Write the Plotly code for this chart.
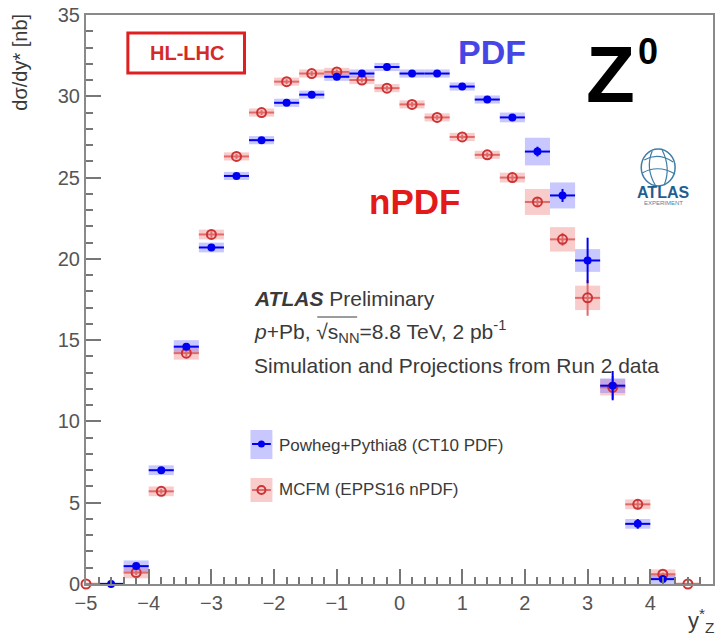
import plotly.graph_objects as go

# ---- Powheg+Pythia8 (CT10 PDF) ----
pdf_y = [-4.6, -4.2, -3.8, -3.4, -3.0, -2.6, -2.2, -1.8, -1.4, -1.0, -0.6, -0.2,
         0.2, 0.6, 1.0, 1.4, 1.8, 2.2, 2.6, 3.0, 3.4, 3.8, 4.2]
pdf_xs = [0.0, 1.1, 7.0, 14.6, 20.7, 25.1, 27.3, 29.6, 30.1, 31.2, 31.4, 31.8,
          31.4, 31.4, 30.6, 29.8, 28.7, 26.6, 23.9, 19.9, 12.2, 3.7, 0.3]
pdf_stat = [0.05, 0.15, 0.15, 0.2, 0.2, 0.15, 0.15, 0.15, 0.15, 0.15, 0.15, 0.15,
            0.15, 0.15, 0.15, 0.15, 0.2, 0.3, 0.4, 1.4, 0.9, 0.3, 0.1]
pdf_sys = [0.1, 0.35, 0.3, 0.4, 0.3, 0.25, 0.25, 0.25, 0.25, 0.25, 0.25, 0.25,
           0.25, 0.25, 0.25, 0.25, 0.3, 0.85, 0.8, 0.7, 0.45, 0.3, 0.3]

# ---- MCFM (EPPS16 nPDF) ----
npdf_y = [-5.0, -4.2, -3.8, -3.4, -3.0, -2.6, -2.2, -1.8, -1.4, -1.0, -0.6, -0.2,
          0.2, 0.6, 1.0, 1.4, 1.8, 2.2, 2.6, 3.0, 3.4, 3.8, 4.2, 4.6]
npdf_xs = [0.0, 0.7, 5.7, 14.2, 21.5, 26.3, 29.0, 30.9, 31.4, 31.5, 31.0, 30.5,
           29.5, 28.7, 27.5, 26.4, 25.0, 23.5, 21.2, 17.6, 12.1, 4.9, 0.6, 0.0]
npdf_stat = [0.05, 0.15, 0.15, 0.2, 0.2, 0.15, 0.15, 0.15, 0.15, 0.15, 0.15, 0.15,
             0.15, 0.15, 0.15, 0.15, 0.2, 0.3, 0.4, 1.1, 0.7, 0.3, 0.1, 0.05]
npdf_sys = [0.1, 0.35, 0.3, 0.4, 0.3, 0.25, 0.25, 0.25, 0.25, 0.25, 0.25, 0.25,
            0.25, 0.25, 0.25, 0.25, 0.3, 0.8, 0.75, 0.75, 0.5, 0.3, 0.3, 0.1]

half_bin = 0.2
x_ticks = [-5, -4, -3, -2, -1, 0, 1, 2, 3, 4, 5]
y_ticks = [0, 5, 10, 15, 20, 25, 30, 35]

BLUE = "#0000f0"
BLUE_BOX = "rgba(110,110,255,0.38)"
RED = "#cc3333"
RED_BAR = "#e06a6a"
RED_BOX = "rgba(240,120,120,0.38)"
GREY_TXT = "#3a3a3a"
FONT = "Liberation Sans, Arial, sans-serif"

# plot-area geometry (pixels) used to place free text in paper units
W, H = 718, 642
L, R, T, B = 86, 3, 15, 58
PW, PH = W - L - R, H - T - B


def px(x):
    return (x - L) / PW


def py(y):
    return (H - B - y) / PH


fig = go.Figure()


def add_series(xc, val, stat, sys, box_col, bar_col, marker):
    fig.add_trace(go.Bar(
        x=xc, y=[2 * s for s in sys], base=[v - s for v, s in zip(val, sys)],
        width=2 * half_bin, marker=dict(color=box_col, line=dict(width=0)),
        showlegend=False, hoverinfo="skip"))
    fig.add_trace(go.Scatter(
        x=xc, y=val, mode="markers", cliponaxis=False, showlegend=False,
        marker=marker,
        error_x=dict(type="data", array=[half_bin] * len(xc), width=0,
                     thickness=2, color=bar_col),
        error_y=dict(type="data", array=stat, width=0, thickness=2,
                     color=bar_col)))


add_series(npdf_y, npdf_xs, npdf_stat, npdf_sys, RED_BOX, RED_BAR,
           dict(symbol="circle-open", size=9, color=RED, line=dict(width=2, color=RED)))
add_series(pdf_y, pdf_xs, pdf_stat, pdf_sys, BLUE_BOX, BLUE,
           dict(symbol="circle", size=8, color=BLUE))

# legend keys drawn on an overlay axis spanning the plot area in [0, 1]
leg_keys_x = [px(262), px(262)]
leg_keys_y = [py(444), py(490)]
fig.add_trace(go.Scatter(
    x=[leg_keys_x[0]], y=[leg_keys_y[0]], xaxis="x2", yaxis="y2", mode="markers",
    marker=dict(symbol="circle", size=7, color=BLUE), showlegend=False,
    error_x=dict(type="constant", value=0.015, width=0, thickness=2, color=BLUE),
    hoverinfo="skip"))
fig.add_trace(go.Scatter(
    x=[leg_keys_x[1]], y=[leg_keys_y[1]], xaxis="x2", yaxis="y2", mode="markers",
    marker=dict(symbol="circle-open", size=8, color=RED, line=dict(width=2, color=RED)),
    error_x=dict(type="constant", value=0.015, width=0, thickness=2, color=RED_BAR),
    showlegend=False, hoverinfo="skip"))

G = "#3f7ea6"
shapes = [
    # legend key boxes
    dict(type="rect", xref="paper", yref="paper", x0=px(251), x1=px(273),
         y0=py(459), y1=py(430), fillcolor=BLUE_BOX, line=dict(width=0), layer="below"),
    dict(type="rect", xref="paper", yref="paper", x0=px(251), x1=px(273),
         y0=py(502), y1=py(478), fillcolor=RED_BOX, line=dict(width=0), layer="below"),
    # HL-LHC frame
    dict(type="rect", xref="paper", yref="paper", x0=px(128), x1=px(245),
         y0=py(73), y1=py(33), line=dict(color="#e02020", width=3), fillcolor="white"),
    # ATLAS globe outline
    dict(type="circle", xref="paper", yref="paper", x0=px(643), x1=px(677),
         y0=py(186), y1=py(149), line=dict(color=G, width=1.5)),
    dict(type="path", xref="paper", yref="paper",
         path=f"M {px(646)},{py(160)} Q {px(660)},{py(152)} {px(675)},{py(162)}",
         line=dict(color=G, width=1.2)),
    dict(type="path", xref="paper", yref="paper",
         path=f"M {px(644)},{py(173)} Q {px(660)},{py(164)} {px(677)},{py(174)}",
         line=dict(color=G, width=1.2)),
    dict(type="path", xref="paper", yref="paper",
         path=f"M {px(654)},{py(151)} Q {px(647)},{py(168)} {px(657)},{py(185)}",
         line=dict(color=G, width=1.2)),
    dict(type="path", xref="paper", yref="paper",
         path=f"M {px(664)},{py(150)} Q {px(673)},{py(168)} {px(666)},{py(185)}",
         line=dict(color=G, width=1.2)),
    # overline for sqrt(s_NN)
    dict(type="line", xref="paper", yref="paper", x0=px(318), x1=px(358),
         y0=py(317), y1=py(317), line=dict(color=GREY_TXT, width=1.2)),
]


def txt(x, y, text, size, color, xanchor="left", yanchor="middle", **kw):
    return dict(x=px(x), y=py(y), xref="paper", yref="paper", text=text,
                showarrow=False, xanchor=xanchor, yanchor=yanchor,
                font=dict(family=FONT, size=size, color=color), **kw)


annotations = [
    txt(187, 53, "<b>HL-LHC</b>", 20, "#d42a2a", xanchor="center"),
    txt(493, 52, "<b>PDF</b>", 34, "#4646e6", xanchor="center"),
    txt(416, 202, "<b>nPDF</b>", 35, "#e21a1a", xanchor="center"),
    txt(612, 74, "<b>Z</b>", 80, "black", xanchor="center"),
    txt(650, 52, "<b>0</b>", 36, "black", xanchor="center"),
    txt(665, 192, "<b>ATLAS</b>", 16, "#1f5f8f", xanchor="center"),
    txt(665, 203, "EXPERIMENT", 6, "#4f7fa6", xanchor="center"),
    txt(253, 298, "<b><i>ATLAS</i></b> Preliminary", 21, GREY_TXT),
    txt(253, 331, "<i>p</i>+Pb, √s<sub>NN</sub>=8.8 TeV, 2 pb<sup>-1</sup>", 21, GREY_TXT),
    txt(253, 365, "Simulation and Projections from Run 2 data", 21, GREY_TXT),
    txt(278, 445, "Powheg+Pythia8 (CT10 PDF)", 17, GREY_TXT),
    txt(278, 489, "MCFM (EPPS16 nPDF)", 17, GREY_TXT),
    # axis titles
    dict(x=px(20), y=py(12), xref="paper", yref="paper", text="dσ/dy* [nb]",
         textangle=-90, showarrow=False, xanchor="center", yanchor="top",
         font=dict(family=FONT, size=20, color=GREY_TXT)),
    txt(718, 620, "y<sup>*</sup><sub>Z</sub>", 22, GREY_TXT, xanchor="right"),
]

axis_common = dict(
    showgrid=False, zeroline=False, showline=True, mirror=True,
    linecolor="#8a8a8a", linewidth=2, ticks="inside", tickcolor="#777777",
    tickwidth=1.5, tickfont=dict(family=FONT, size=20, color="#555555"),
)

fig.update_layout(
    width=W, height=H, margin=dict(l=L, r=R, t=T, b=B),
    paper_bgcolor="white", plot_bgcolor="white", barmode="overlay",
    showlegend=False,
    xaxis=dict(range=[-5, 5], tickvals=x_ticks, ticklen=15,
               minor=dict(dtick=0.2, ticks="inside", ticklen=7, tickcolor="#777777"),
               **axis_common),
    yaxis=dict(range=[0, 35], tickvals=y_ticks, ticklen=15,
               minor=dict(dtick=1, ticks="inside", ticklen=7, tickcolor="#777777"),
               **axis_common),
    xaxis2=dict(overlaying="x", range=[0, 1], visible=False),
    yaxis2=dict(overlaying="y", range=[0, 1], visible=False),
    shapes=shapes, annotations=annotations,
)

fig.write_html("out.html")
